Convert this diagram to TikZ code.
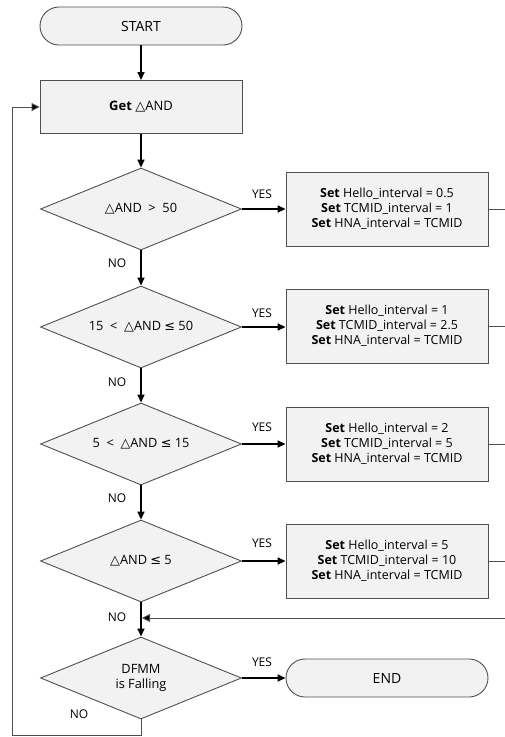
\documentclass[tikz,border=0pt]{standalone}
\usepackage{fontspec}
\setmainfont{Open Sans}
\newfontfamily\symf{DejaVu Sans}
\usetikzlibrary{shapes.geometric,arrows.meta}
\newcommand{\tri}{{\symf △}}
\newcommand{\leqs}{{\symf ≤}}
\newcommand{\fixw}[1]{\makebox[0pt][c]{#1}}
\definecolor{boxfill}{HTML}{F2F2F2}
\definecolor{edge}{HTML}{505050}
\tikzset{
  term/.style={draw=edge,fill=boxfill,line width=0.9pt,rounded corners=19pt,minimum width=202pt,minimum height=38pt,inner sep=0pt,font=\fontsize{14}{17}\selectfont},
  proc/.style={draw=edge,fill=boxfill,line width=0.9pt,minimum width=202pt,minimum height=53pt,inner sep=0pt,font=\fontsize{13}{15}\selectfont},
  setbox/.style={draw=edge,fill=boxfill,line width=0.9pt,minimum width=202pt,minimum height=74pt,inner sep=0pt,align=center,font=\fontsize{12.5}{15}\selectfont},
  dec/.style={diamond,draw=edge,fill=boxfill,line width=0.9pt,minimum width=201pt,minimum height=82pt,inner sep=0pt,font=\fontsize{12.8}{16}\selectfont},
  lbl/.style={font=\fontsize{12}{14}\selectfont,inner sep=0pt},
  arr/.style={line width=1.6pt,-{Triangle[length=8pt,width=7pt]}},
  thin/.style={draw=edge,line width=0.9pt},
}
\begin{document}
\begin{tikzpicture}[x=1pt,y=-1pt]
\useasboundingbox (0,0) rectangle (505,737);
\node[term] (start) at (141,26) {START};
\node[proc] (get) at (141,107) {\textbf{Get} \tri AND};
\node[dec] (d1) at (141,209) {\fixw{\tri AND \ > \ 50}};
\node[dec] (d2) at (141,327) {\fixw{15 \ < \ \tri AND \leqs\ 50}};
\node[dec] (d3) at (141,444) {\fixw{5 \ < \ \tri AND \leqs\ 15}};
\node[dec] (d4) at (141,561) {\fixw{\tri AND \leqs\ 5}};
\node[dec] (d5) at (141,678) {\fixw{\begin{tabular}{@{}c@{}}DFMM\\[-1pt]is Falling\end{tabular}}};
\node[setbox] (s1) at (387,209) {\textbf{Set} Hello\_interval = 0.5\\\textbf{Set} TCMID\_interval = 1\\\textbf{Set} HNA\_interval = TCMID};
\node[setbox] (s2) at (387,326) {\textbf{Set} Hello\_interval = 1\\\textbf{Set} TCMID\_interval = 2.5\\\textbf{Set} HNA\_interval = TCMID};
\node[setbox] (s3) at (387,444) {\textbf{Set} Hello\_interval = 2\\\textbf{Set} TCMID\_interval = 5\\\textbf{Set} HNA\_interval = TCMID};
\node[setbox] (s4) at (387,561) {\textbf{Set} Hello\_interval = 5\\\textbf{Set} TCMID\_interval = 10\\\textbf{Set} HNA\_interval = TCMID};
\node[term] (end) at (387,678) {END};
\coordinate (r1) at (505,209);
\coordinate (r2) at (505,326);
\coordinate (r3) at (505,444);
\coordinate (r4) at (505,561);
\coordinate (ret) at (505,618);
\coordinate (join) at (142,618);
\coordinate (lb) at (141,735);
\coordinate (lc) at (12,735);
\coordinate (ld) at (12,107);
\draw[arr] (start) -- (get);
\draw[arr] (get) -- (d1);
\draw[arr] (d1) -- (d2);
\draw[arr] (d2) -- (d3);
\draw[arr] (d3) -- (d4);
\draw[arr] (d4) -- (d5);
\draw[arr] (d1) -- (s1);
\draw[arr] (d2.east) -- (s2.west |- d2.east);
\draw[arr] (d3) -- (s3);
\draw[arr] (d4) -- (s4);
\draw[arr] (d5) -- (end);
\draw[thin] (s1) -- (r1);
\draw[thin] (s2.east |- r2) -- (r2);
\draw[thin] (s3) -- (r3);
\draw[thin] (s4) -- (r4);
\draw[thin,-{Triangle[length=8pt,width=8pt,fill=black]}] (ret) -- (join);
\draw[thin] (d5.south) -- (lb) -- (lc) -- (ld);
\draw[thin,-{Triangle[length=8pt,width=8pt,fill=black]}] (ld) -- (get.west);
\node[lbl] (y1) at (262,194) {YES};
\node[lbl] (y2) at (262,313) {YES};
\node[lbl] (y3) at (262,427) {YES};
\node[lbl] (y4) at (262,543) {YES};
\node[lbl] (y5) at (262,662) {YES};
\node[lbl] (n1) at (117,263) {NO};
\node[lbl] (n2) at (117,382) {NO};
\node[lbl] (n3) at (117,498) {NO};
\node[lbl] (n4) at (117,617) {NO};
\node[lbl] (n5) at (79,714) {NO};
\end{tikzpicture}
\end{document}
